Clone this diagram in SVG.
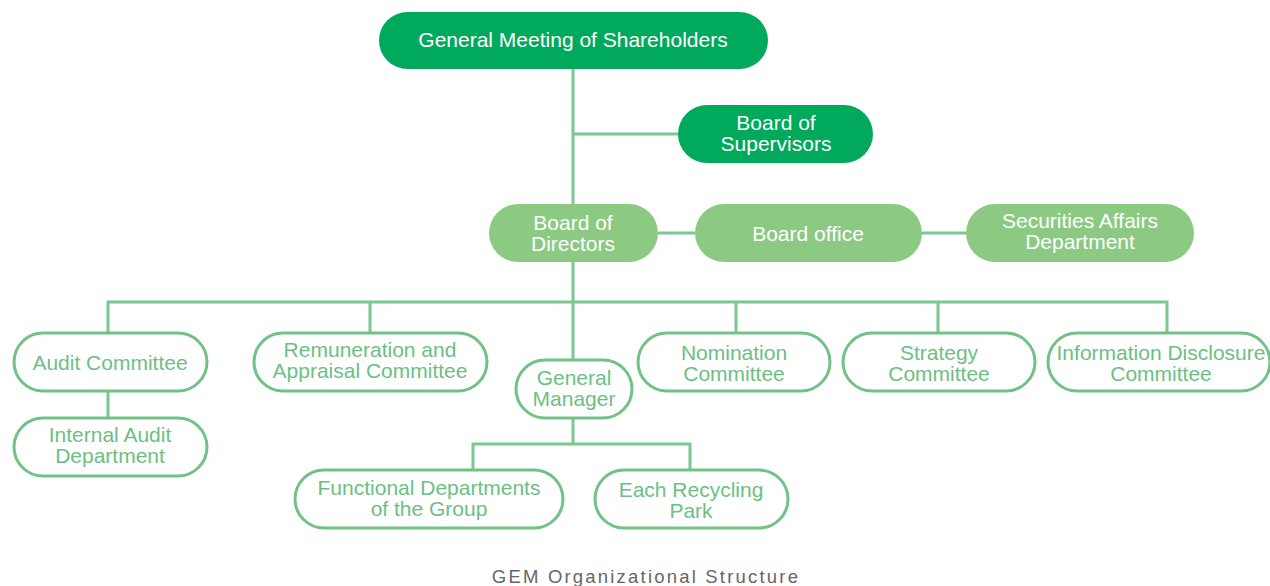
<svg xmlns="http://www.w3.org/2000/svg" width="1270" height="586" viewBox="0 0 1270 586">
<style>
text{font-family:"Liberation Sans",Arial,sans-serif;font-size:21px;text-anchor:middle}
.dark rect{fill:#00a95c}
.dark text{fill:#fff}
.light rect{fill:#8cca84}
.light text{fill:#fff}
.out rect{fill:#fff;stroke:#72c287;stroke-width:3}
.out text{fill:#6cbf84}
#connectors path{fill:none;stroke:#7cc68f;stroke-width:3}
.cap{font-size:18.5px;fill:#666;letter-spacing:2.2px}
</style>
<rect width="1270" height="586" fill="#fff"/>
<g id="connectors">
<path d="M573 69V204M573 134H678"/>
<path d="M658 233H695M922 233H966"/>
<path d="M573 262V360M108 332V302H1167V332M370 302V332M736 302V332M938 302V332"/>
<path d="M108 391V418"/>
<path d="M573 419V444M473 470V444H690V470"/>
</g>
<g id="n-gms" class="dark"><rect x="379" y="12" width="389" height="57" rx="28.5"/><text x="573" y="47" font-size="22">General Meeting of Shareholders</text></g>
<g id="n-bos" class="dark"><rect x="678" y="105" width="195" height="58" rx="29"/><text x="776" y="130">Board of</text><text x="776" y="151">Supervisors</text></g>
<g id="n-bod" class="light"><rect x="489" y="204" width="169" height="58" rx="29"/><text x="573" y="230">Board of</text><text x="573" y="251">Directors</text></g>
<g id="n-bo" class="light"><rect x="695" y="204" width="227" height="58" rx="29"/><text x="808" y="241">Board office</text></g>
<g id="n-sad" class="light"><rect x="966" y="204" width="228" height="58" rx="29"/><text x="1080" y="228">Securities Affairs</text><text x="1080" y="249">Department</text></g>
<g id="n-audit" class="out"><rect x="14" y="333" width="193" height="58" rx="29"/><text x="110" y="370">Audit Committee</text></g>
<g id="n-iad" class="out"><rect x="14" y="418" width="193" height="58" rx="29"/><text x="110" y="442">Internal Audit</text><text x="110" y="463">Department</text></g>
<g id="n-rem" class="out"><rect x="254" y="333" width="233" height="58" rx="29"/><text x="370" y="357">Remuneration and</text><text x="370" y="378">Appraisal Committee</text></g>
<g id="n-gm" class="out"><rect x="516" y="360" width="116" height="58" rx="29"/><text x="574" y="385">General</text><text x="574" y="406">Manager</text></g>
<g id="n-nom" class="out"><rect x="638" y="333" width="192" height="58" rx="29"/><text x="734" y="360">Nomination</text><text x="734" y="381">Committee</text></g>
<g id="n-str" class="out"><rect x="843" y="333" width="192" height="58" rx="29"/><text x="939" y="360">Strategy</text><text x="939" y="381">Committee</text></g>
<g id="n-idc" class="out"><rect x="1048" y="333" width="222" height="58" rx="29"/><text x="1161" y="360">Information Disclosure</text><text x="1161" y="381">Committee</text></g>
<g id="n-fd" class="out"><rect x="295" y="470" width="268" height="58" rx="29"/><text x="429" y="495">Functional Departments</text><text x="429" y="516">of the Group</text></g>
<g id="n-rp" class="out"><rect x="595" y="470" width="193" height="58" rx="29"/><text x="691" y="497">Each Recycling</text><text x="691" y="518">Park</text></g>
<text class="cap" x="646" y="583">GEM Organizational Structure</text>
</svg>
